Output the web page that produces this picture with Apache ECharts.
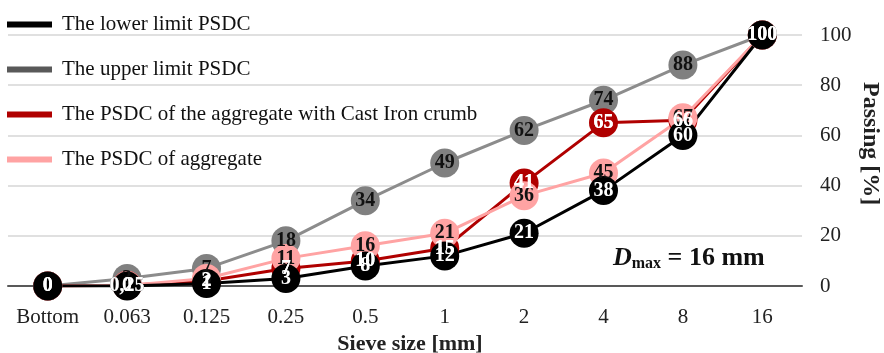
<!DOCTYPE html>
<html>
<head>
<meta charset="utf-8">
<script src="https://cdn.jsdelivr.net/npm/echarts@6/dist/echarts.min.js"></script>
<style>
  html, body { margin: 0; padding: 0; background: #fff; }
  #chart { width: 884px; height: 353px; }
</style>
</head>
<body>
<div id="chart"></div>
<script>
// Sieve sizes (mm) and passing percentages for each grading curve
const sieveSizes = ['Bottom', '0.063', '0.125', '0.25', '0.5', '1', '2', '4', '8', '16'];
const lowerLimit = [0, 0, 1, 3, 8, 12, 21, 38, 60, 100];
const upperLimit = [0, 3, 7, 18, 34, 49, 62, 74, 88, 100];
const castIronMix = [0, 0.25, 2, 7, 10, 15, 41, 65, 66, 100];
const aggregate = [0, 0.25, 3, 11, 16, 21, 36, 45, 67, 100];
const yTicks = [0, 20, 40, 60, 80, 100];

const SERIF = '"Liberation Serif", "Times New Roman", serif';

function fmt(v) {
  return String(v).replace('.', ',');
}

function valueLabel(textColor) {
  return {
    show: true,
    position: 'inside',
    formatter: p => fmt(p.value),
    color: textColor,
    fontFamily: SERIF,
    fontWeight: 'bold',
    fontSize: 20
  };
}

// All curves share one z so every value label sits above every marker;
// declaration order sets which markers end up on top.
function curve(name, data, lineColor, markColor, textColor) {
  return {
    name: name,
    type: 'line',
    data: data,
    z: 3,
    symbol: 'circle',
    symbolSize: 29,
    lineStyle: { color: lineColor, width: 3 },
    itemStyle: { color: markColor, borderWidth: 0 },
    label: valueLabel(textColor),
    labelLayout: { hideOverlap: false },
    emphasis: { disabled: true },
    animation: false
  };
}

// The Cast Iron crumb values are written once more on a transparent layer
// so they read above the black lower-limit markers.
const castIronLabels = {
  name: 'castIronLabels',
  type: 'line',
  data: castIronMix,
  z: 3,
  symbol: 'circle',
  symbolSize: 29,
  lineStyle: { width: 0, color: 'transparent' },
  itemStyle: { color: 'transparent', borderWidth: 0 },
  label: valueLabel('#fff'),
  labelLayout: { hideOverlap: false },
  emphasis: { disabled: true },
  silent: true,
  animation: false
};

const chart = echarts.init(document.getElementById('chart'));
chart.setOption({
  backgroundColor: '#fff',
  animation: false,
  grid: { left: 8, right: 82, top: 35, bottom: 67, containLabel: false, outerBoundsMode: 'none' },
  legend: {
    orient: 'vertical',
    left: 7,
    top: 14,
    padding: 0,
    itemGap: 24,
    itemWidth: 45,
    itemHeight: 6,
    icon: 'rect',
    textStyle: { fontFamily: SERIF, fontSize: 21, color: '#111', padding: [0, 0, 0, 5] },
    data: [
      { name: 'The lower limit PSDC', itemStyle: { color: '#000' } },
      { name: 'The upper limit PSDC', itemStyle: { color: '#595959' } },
      { name: 'The PSDC of the aggregate with Cast Iron crumb', itemStyle: { color: '#b00000' } },
      { name: 'The PSDC of aggregate', itemStyle: { color: '#ffa3a3' } }
    ]
  },
  xAxis: {
    type: 'category',
    data: sieveSizes,
    boundaryGap: true,
    axisLine: { lineStyle: { color: '#595959', width: 2 } },
    axisTick: { show: false },
    axisLabel: { interval: 0, hideOverlap: false, fontFamily: SERIF, fontSize: 21, color: '#222', margin: 21 },
    name: 'Sieve size [mm]',
    nameLocation: 'middle',
    nameGap: 45,
    nameTextStyle: { fontFamily: SERIF, fontSize: 22, fontWeight: 'bold', color: '#222', padding: [0, 0, 0, 10] }
  },
  yAxis: {
    type: 'value',
    position: 'right',
    min: 0,
    max: 100,
    interval: 20,
    axisLine: { show: false },
    axisTick: { show: false },
    splitLine: { lineStyle: { color: '#d6d6d6', width: 1.5 } },
    axisLabel: {
      fontFamily: SERIF, fontSize: 21, color: '#222', margin: 18,
      formatter: v => (yTicks.includes(v) ? String(v) : '')
    }
  },
  graphic: [
    {
      type: 'text',
      left: 858,
      top: 82,
      rotation: -Math.PI / 2,
      style: {
        text: 'Passing [%]',
        font: 'bold 24px ' + SERIF,
        fill: '#222'
      }
    },
    {
      type: 'text',
      left: 613,
      top: 245,
      style: {
        text: '{d|D}{m|max}{r| = 16 mm}',
        rich: {
          d: { font: 'italic bold 26px ' + SERIF, fill: '#111' },
          m: { font: 'bold 16px ' + SERIF, fill: '#111', padding: [12, 0, 0, 0] },
          r: { font: 'bold 26px ' + SERIF, fill: '#111' }
        }
      }
    }
  ],
  series: [
    curve('The upper limit PSDC', upperLimit, '#8c8c8c', '#808080', '#111'),
    curve('The PSDC of the aggregate with Cast Iron crumb', castIronMix, '#b00000', '#b00000', '#fff'),
    curve('The PSDC of aggregate', aggregate, '#ffa3a3', '#ffa3a3', '#111'),
    curve('The lower limit PSDC', lowerLimit, '#000', '#000', '#fff'),
    castIronLabels
  ]
});
</script>
</body>
</html>
